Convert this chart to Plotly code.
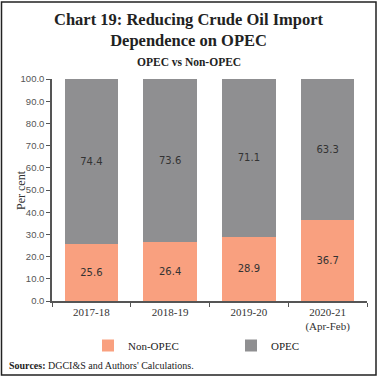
import plotly.graph_objects as go

categories = ["2017-18", "2018-19", "2019-20", "2020-21<br>(Apr-Feb)"]
non_opec = [25.6, 26.4, 28.9, 36.7]
opec = [74.4, 73.6, 71.1, 63.3]
y_ticks = [0, 10, 20, 30, 40, 50, 60, 70, 80, 90, 100]

W, H = 379, 380
L, R, T, B = 52, 12, 79, 79
pw, ph = W - L - R, H - T - B

def px(x):
    return (x - L) / pw

def py(y):
    return (H - B - y) / ph

serif = "Liberation Serif, DejaVu Serif, serif"
sans = "DejaVu Sans, Noto Sans, sans-serif"
narrow = "Liberation Sans, Arial, sans-serif"

fig = go.Figure()
fig.add_trace(go.Bar(
    x=categories, y=non_opec, name="Non-OPEC",
    marker=dict(color="#F9A07F", line=dict(width=0)),
    texttemplate="%{y:.1f}", textposition="inside", insidetextanchor="middle",
    textfont=dict(family=sans, size=10, color="#333333"),
))
fig.add_trace(go.Bar(
    x=categories, y=opec, name="OPEC",
    marker=dict(color="#8F8F91", line=dict(width=0)),
    texttemplate="%{y:.1f}", textposition="inside", insidetextanchor="middle",
    textfont=dict(family=sans, size=10, color="#333333"),
))

fig.update_layout(
    width=W, height=H,
    margin=dict(l=L, r=R, t=T, b=B, autoexpand=False),
    barmode="stack", bargap=0.32,
    paper_bgcolor="white", plot_bgcolor="white",
    showlegend=True,
    legend=dict(orientation="h", traceorder="normal", x=px(88), xanchor="left", y=py(331), yanchor="top",
                font=dict(family=serif, size=11, color="#222222"),
                entrywidth=98, entrywidthmode="pixels", itemwidth=30,
                bgcolor="rgba(0,0,0,0)"),
    hovermode=False,
    xaxis=dict(
        showline=True, linecolor="#555555", linewidth=1.5,
        ticks="outside", tickson="boundaries", ticklen=4, tickcolor="#555555",
        tickfont=dict(family=serif, size=11, color="#333333"),
        showgrid=False,
    ),
    yaxis=dict(
        range=[0, 100], tickvals=y_ticks, tickformat=".1f",
        showline=True, linecolor="#555555", linewidth=1.5,
        ticks="outside", ticklen=4, tickcolor="#555555",
        tickfont=dict(family=narrow, size=9.5, color="#555555"),
        showgrid=False, zeroline=False,
    ),
    annotations=[
        dict(text="<b>Chart 19: Reducing Crude Oil Import<br>Dependence on OPEC</b>",
             xref="paper", yref="paper", x=px(189), y=py(30), xanchor="center", yanchor="middle",
             showarrow=False, font=dict(family=serif, size=16.5, color="#222222")),
        dict(text="<b>OPEC vs Non-OPEC</b>",
             xref="paper", yref="paper", x=px(189), y=py(62), xanchor="center", yanchor="middle",
             showarrow=False, font=dict(family=serif, size=11.5, color="#222222")),
        dict(text="Per cent", textangle=-90,
             xref="paper", yref="paper", x=px(21), y=0.5, xanchor="center", yanchor="middle",
             showarrow=False, font=dict(family=serif, size=12, color="#333333")),
        dict(text="<b>Sources:</b> DGCI&S and Authors' Calculations.",
             xref="paper", yref="paper", x=px(7), y=py(365), xanchor="left", yanchor="middle",
             showarrow=False, font=dict(family=serif, size=10, color="#222222")),
    ],
    shapes=[
        dict(type="rect", xref="paper", yref="paper",
             x0=px(1.5), x1=px(376), y0=py(375), y1=py(2),
             line=dict(color="#222222", width=1.5), fillcolor="rgba(0,0,0,0)", layer="below"),
    ],
)

fig.write_html("out.html", config={"displayModeBar": False},
               post_script="document.body.style.margin='0';")
